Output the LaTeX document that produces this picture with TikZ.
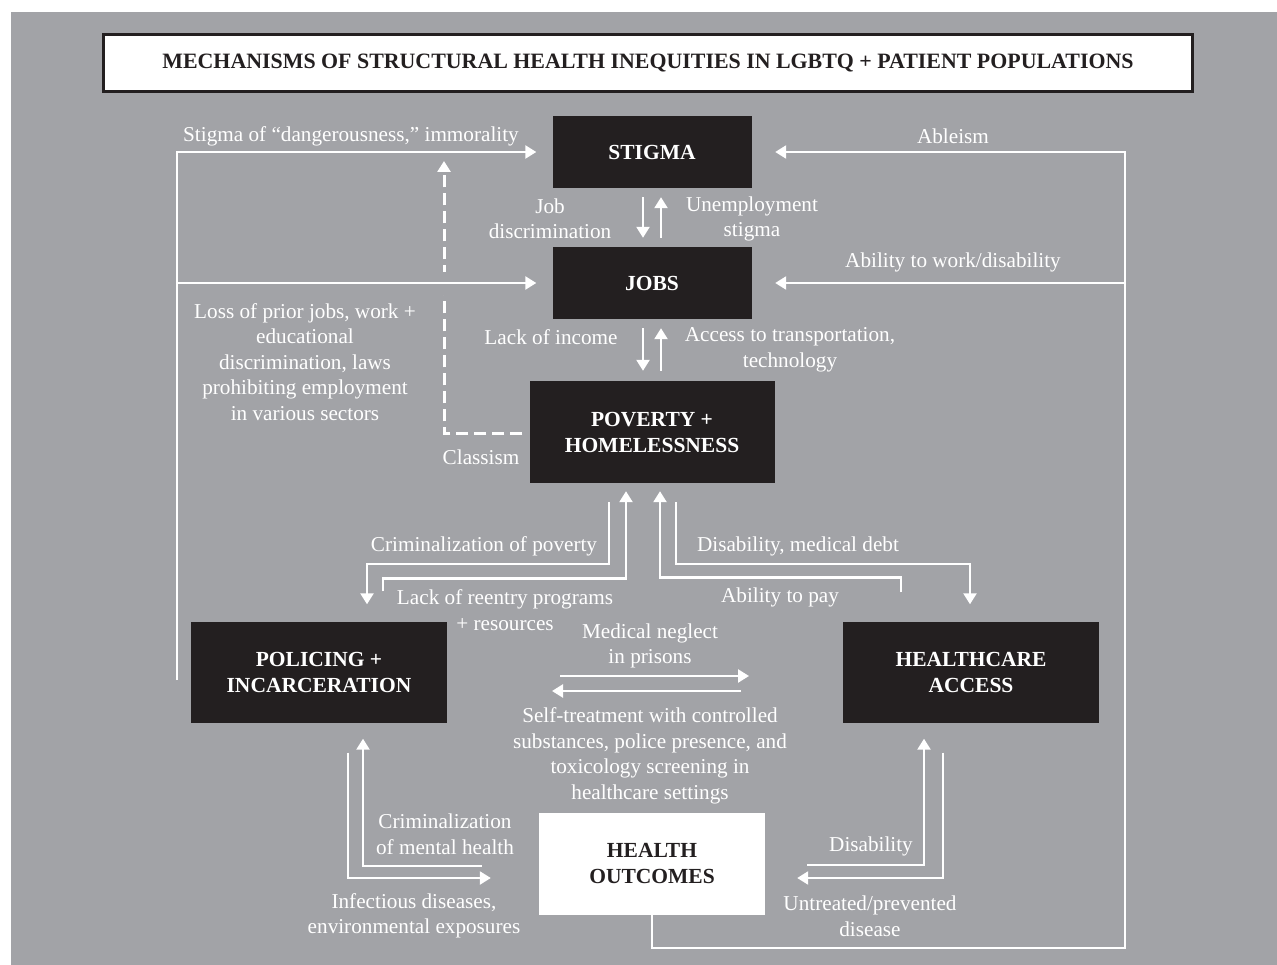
\documentclass[tikz,border=0pt]{standalone}
\usepackage{fontspec}
\setmainfont{Liberation Serif}
\usetikzlibrary{arrows.meta,calc}
\definecolor{bggray}{RGB}{162,163,167}
\definecolor{boxblack}{RGB}{35,31,32}
\begin{document}
\begin{tikzpicture}[x=1pt,y=-1pt,
  wline/.style={draw=white, line width=2.4pt, line join=miter},
  arr/.style={wline, -{Triangle[width=13pt,length=11pt]}},
  dashline/.style={draw=white, line width=3pt, dash pattern=on 12pt off 6pt, -{Triangle[width=13pt,length=11pt]}},
  bbox/.style={fill=boxblack, text=white, font=\fontsize{21.5}{26}\selectfont\bfseries, align=center, inner sep=0pt},
  lbl/.style={text=white, font=\fontsize{21.2}{25.5}\selectfont, align=center, inner sep=0pt}]
\useasboundingbox (0,0) rectangle (1277,965);
\fill[white] (0,0) rectangle (1277,965);
\fill[bggray] (11,12) rectangle (1277,965);

% title
\node[draw=boxblack, line width=3pt, fill=white, minimum width=1089pt, minimum height=57pt, inner sep=0pt,
      text=boxblack, font=\fontsize{21.9}{26}\selectfont\bfseries] (title) at (648,63)
  {MECHANISMS OF STRUCTURAL HEALTH INEQUITIES IN LGBTQ + PATIENT POPULATIONS};

% boxes
\node[bbox, minimum width=199pt, minimum height=72pt] (stigma) at (652,152) {STIGMA};
\node[bbox, minimum width=199pt, minimum height=72pt] (jobs) at (652,283) {JOBS};
\node[bbox, minimum width=245pt, minimum height=102pt] (pov) at (652,432) {POVERTY +\\HOMELESSNESS};
\node[bbox, minimum width=256pt, minimum height=101pt] (pol) at (319,672) {POLICING +\\INCARCERATION};
\node[bbox, minimum width=256pt, minimum height=101pt] (hc) at (971,672) {HEALTHCARE\\ACCESS};
\node[bbox, fill=white, text=boxblack, minimum width=226pt, minimum height=102pt] (ho) at (652,864) {HEALTH\\OUTCOMES};

% left side
\coordinate (pl) at ($(pol.west)+(-14,8)$);
\draw[arr, shorten >=16pt] (pl) |- (stigma.west);
\draw[dashline] ($(pov.west)+(-7,1)$) -| (444,161);
\fill[bggray] (439,272) rectangle (449,295);
\draw[arr, shorten >=16pt] (177,283) -- (jobs.west);

% stigma <-> jobs <-> poverty
\draw[arr] ($(stigma.south)+(-9,9)$) -- ($(jobs.north)+(-9,-9)$);
\draw[arr] ($(jobs.north)+(9,-9)$) -- ($(stigma.south)+(9,9)$);
\draw[arr] ($(jobs.south)+(-9,9)$) -- ($(pov.north)+(-9,-10)$);
\draw[arr] ($(pov.north)+(9,-10)$) -- ($(jobs.south)+(9,9)$);

% right side loop
\draw[arr, shorten >=23.5pt] (ho.south) |- (1125,948) |- (stigma.east);
\draw[arr, shorten >=23.5pt] (1125,283) -- (jobs.east);

% poverty bottom
\draw[arr] ($(pov.south)+(-43,19)$) -- ++(0,62) -| ($(pol.north)+(48,-17)$);
\draw[arr] ($(pol.north)+(64,-30)$) -- ++(0,-13) -| ($(pov.south)+(-26,8)$);
\draw[arr] ($(hc.north)+(-70,-29)$) -- ++(0,-15) -| ($(pov.south)+(8,8)$);
\draw[arr] ($(pov.south)+(24,19)$) -- ++(0,62) -| ($(hc.north)+(-1,-17)$);

% middle
\coordinate (m1) at (560,676);
\coordinate (m2) at (749,676);
\coordinate (m3) at (741,691);
\coordinate (m4) at (552,691);
\draw[arr] (m1) -- (m2);
\draw[arr] (m3) -- (m4);

% bottom left
\draw[arr] ($(ho.west)+(-57,2)$) -| ($(pol.south)+(44,16)$);
\draw[arr] ($(pol.south)+(29,30)$) |- ($(ho.west)+(-48,14)$);

% bottom right
\draw[arr] ($(ho.east)+(42,1)$) -| ($(hc.south)+(-47,16)$);
\draw[arr] ($(hc.south)+(-28,30)$) |- ($(ho.east)+(32,14)$);

% labels
\node[lbl] (l1) at (351,136) {Stigma of “dangerousness,” immorality};
\node[lbl] (l2) at (953,136) {Ableism};
\node[lbl] (l3) at (953,262) {Ability to work/disability};
\node[lbl] (l4) at (550,219) {Job\\discrimination};
\node[lbl] (l5) at (752,219) {Unemployment\\stigma};
\node[lbl] (l6) at (551,337) {Lack of income};
\node[lbl] (l7) at (790,350) {Access to transportation,\\technology};
\node[lbl] (l8) at (305,362) {Loss of prior jobs, work +\\educational\\discrimination, laws\\prohibiting employment\\in various sectors};
\node[lbl] (l9) at (481,457) {Classism};
\node[lbl] (l10) at (484,546) {Criminalization of poverty};
\node[lbl] (l11) at (798,546) {Disability, medical debt};
\node[lbl] (l12) at (505,610) {Lack of reentry programs\\+ resources};
\node[lbl] (l13) at (780,597) {Ability to pay};
\node[lbl] (l14) at (650,646) {Medical neglect\\in prisons};
\node[lbl] (l15) at (650,756) {Self-treatment with controlled\\substances, police presence, and\\toxicology screening in\\healthcare settings};
\node[lbl] (l16) at (445,834) {Criminalization\\of mental health};
\node[lbl] (l17) at (414,916) {Infectious diseases,\\environmental exposures};
\node[lbl] (l18) at (871,846) {Disability};
\node[lbl] (l19) at (870,916) {Untreated/prevented\\disease};
\end{tikzpicture}
\end{document}
